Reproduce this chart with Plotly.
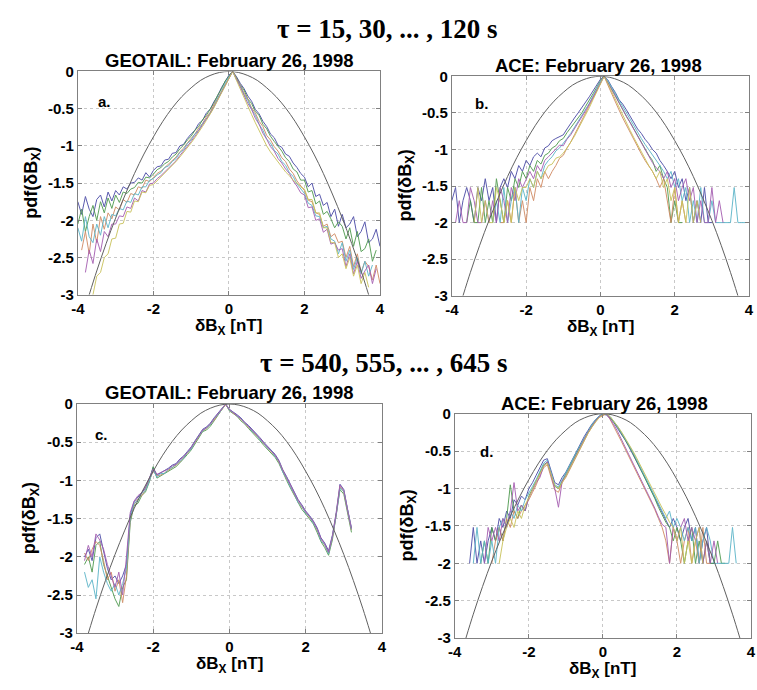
import plotly.graph_objects as go

N = None
# bin centres shared by all panels: -4.0, -3.9, ..., 4.0
X_GRID = [round(-4 + 0.1 * i, 1) for i in range(81)]

X_TICKS = [-4, -2, 0, 2, 4]
X_TICK_TEXT = ["-4", "-2", "0", "2", "4"]
Y_TICKS = [0, -0.5, -1, -1.5, -2, -2.5, -3]
Y_TICK_TEXT = ["0", "-0.5", "-1", "-1.5", "-2", "-2.5", "-3"]

# Gaussian reference curve (log10 pdf)
GAUSS_X = [-3.7, -3.5, -3.25, -3.0, -2.75, -2.5, -2.25, -2.0, -1.75, -1.5, -1.25, -1.0, -0.75, -0.5, -0.25, 0.0,
           0.25, 0.5, 0.75, 1.0, 1.25, 1.5, 1.75, 2.0, 2.25, 2.5, 2.75, 3.0, 3.25, 3.5, 3.7]
GAUSS_Y = [-3.0, -2.68, -2.31, -1.97, -1.66, -1.37, -1.11, -0.88, -0.67, -0.49, -0.34, -0.22, -0.12, -0.055, -0.014, 0.0,
           -0.014, -0.055, -0.12, -0.22, -0.34, -0.49, -0.67, -0.88, -1.11, -1.37, -1.66, -1.97, -2.31, -2.68, -3.0]

# ---------------- panel a: GEOTAIL, tau = 15..120 s ----------------
A1 = [-1.75,-1.92,-1.68,-1.85,-1.95,-1.72,-1.66,-1.82,-1.62,-1.74,
      -1.60,-1.66,-1.55,-1.58,-1.50,-1.49,-1.43,-1.46,-1.36,-1.42,
      -1.33,-1.28,-1.27,-1.19,-1.18,-1.10,-1.09,-1.00,-0.98,-0.90,
      -0.84,-0.79,-0.70,-0.66,-0.56,-0.51,-0.41,-0.33,-0.22,-0.13,
      -0.05,0.00,-0.07,-0.16,-0.23,-0.33,-0.40,-0.51,-0.57,-0.67,
      -0.74,-0.84,-0.89,-0.99,-1.02,-1.11,-1.14,-1.23,-1.29,-1.37,
      -1.42,-1.55,-1.50,-1.68,-1.65,-1.80,-1.76,-1.95,-1.85,-2.08,
      -1.92,-2.10,-2.05,-1.95,-2.22,-2.15,-2.02,-2.30,-2.25,-2.12,
      -2.35]
A2 = [-2.05,-1.85,-2.15,-1.95,-1.80,-2.00,-1.75,-1.90,-1.70,-1.84,
      -1.66,-1.76,-1.62,-1.64,-1.58,-1.56,-1.49,-1.50,-1.42,-1.43,
      -1.38,-1.32,-1.29,-1.24,-1.21,-1.15,-1.11,-1.04,-0.99,-0.92,
      -0.87,-0.79,-0.74,-0.65,-0.59,-0.51,-0.43,-0.32,-0.24,-0.13,
      -0.06,0.00,-0.08,-0.18,-0.25,-0.37,-0.43,-0.54,-0.59,-0.71,
      -0.77,-0.87,-0.94,-1.01,-1.07,-1.16,-1.21,-1.31,-1.35,-1.46,
      -1.46,-1.62,-1.60,-1.78,-1.74,-1.92,-1.88,-1.98,-2.10,-2.02,
      -2.08,-2.25,-2.10,-2.35,-2.15,-2.42,-2.38,-2.25,-2.55,-2.40,
      N]
A3 = [N,-2.40,-2.15,-2.45,-2.05,-2.30,-1.95,-2.12,-1.90,-1.98,
      -1.82,-1.86,-1.72,-1.76,-1.64,-1.66,-1.55,-1.57,-1.46,-1.48,
      -1.42,-1.37,-1.34,-1.29,-1.25,-1.19,-1.15,-1.08,-1.03,-0.96,
      -0.90,-0.84,-0.76,-0.70,-0.61,-0.55,-0.45,-0.36,-0.25,-0.16,
      -0.07,0.00,-0.10,-0.18,-0.29,-0.37,-0.49,-0.56,-0.67,-0.74,
      -0.86,-0.92,-1.01,-1.07,-1.16,-1.21,-1.31,-1.37,-1.47,-1.54,
      -1.60,-1.73,-1.75,-1.90,-1.92,-2.08,-2.05,-2.22,-2.18,-2.30,
      -2.28,-2.50,-2.35,-2.62,-2.45,-2.70,-2.55,-2.62,-2.80,-2.60,
      -2.85]
A4 = [-2.10,-2.28,-1.95,-2.22,-2.30,-2.05,-2.20,-1.95,-2.10,-1.92,
      -1.94,-1.84,-1.86,-1.74,-1.76,-1.64,-1.66,-1.55,-1.55,-1.46,
      -1.44,-1.39,-1.36,-1.29,-1.27,-1.21,-1.17,-1.09,-1.05,-0.97,
      -0.92,-0.84,-0.79,-0.70,-0.64,-0.55,-0.48,-0.36,-0.28,-0.16,
      -0.08,0.00,-0.11,-0.19,-0.31,-0.39,-0.51,-0.59,-0.71,-0.79,
      -0.91,-0.96,-1.06,-1.11,-1.21,-1.26,-1.36,-1.41,-1.51,-1.57,
      -1.64,-1.77,-1.80,-1.94,-1.95,-2.10,-2.08,-2.25,-2.28,-2.45,
      -2.30,-2.55,-2.40,-2.66,-2.50,-2.72,-2.55,-2.75,-2.60,N,
      N]
A5 = [N,N,-2.70,-2.40,-2.58,-2.25,-2.42,-2.15,-2.22,-2.05,
      -2.05,-1.94,-1.95,-1.82,-1.84,-1.70,-1.74,-1.60,-1.62,-1.51,
      -1.50,-1.44,-1.40,-1.35,-1.30,-1.25,-1.20,-1.13,-1.07,-1.00,
      -0.94,-0.87,-0.80,-0.72,-0.64,-0.57,-0.48,-0.38,-0.28,-0.18,
      -0.08,0.00,-0.10,-0.21,-0.30,-0.43,-0.51,-0.63,-0.71,-0.83,
      -0.91,-1.01,-1.07,-1.17,-1.23,-1.31,-1.37,-1.47,-1.54,-1.63,
      -1.66,-1.83,-1.82,-2.00,-1.98,-2.16,-2.12,-2.32,-2.30,-2.40,
      -2.38,-2.62,-2.45,-2.72,-2.55,-2.78,-2.68,-2.60,-2.85,-2.65,
      N]
A6 = [N,N,N,N,-3.00,-2.75,-2.70,-2.50,-2.45,-2.25,
      -2.24,-2.05,-2.04,-1.88,-1.89,-1.74,-1.75,-1.62,-1.63,-1.53,
      -1.52,-1.47,-1.42,-1.37,-1.32,-1.27,-1.21,-1.15,-1.09,-1.02,
      -0.96,-0.89,-0.82,-0.74,-0.66,-0.58,-0.49,-0.39,-0.29,-0.19,
      -0.09,0.00,-0.12,-0.24,-0.36,-0.47,-0.58,-0.69,-0.80,-0.90,
      -1.00,-1.08,-1.15,-1.22,-1.28,-1.35,-1.40,-1.46,-1.50,-1.55,
      -1.58,-1.72,-1.72,-1.90,-1.90,-2.10,-2.10,-2.30,-2.30,-2.50,
      -2.45,-2.65,-2.50,-2.75,-2.60,-2.85,-2.70,-2.90,N,N,
      N]

# ---------------- panel b: ACE, tau = 15..120 s ----------------
B1 = [-1.70,-1.52,-2.00,-1.70,-1.52,-1.70,-2.00,-1.52,-1.70,-1.40,
      -1.70,-1.52,-2.00,-1.52,-1.40,-1.52,-1.30,-1.40,-1.22,-1.30,
      -1.15,-1.22,-1.10,-1.05,-1.10,-0.98,-0.95,-0.88,-0.85,-0.82,
      -0.80,-0.72,-0.64,-0.57,-0.50,-0.43,-0.36,-0.28,-0.20,-0.12,
      -0.04,0.00,-0.05,-0.14,-0.22,-0.32,-0.38,-0.46,-0.55,-0.62,
      -0.72,-0.78,-0.86,-0.92,-1.00,-1.05,-1.15,-1.22,-1.30,-1.40,
      -1.30,-1.52,-1.40,-1.70,-1.52,-2.00,-1.70,-2.00,-1.52,-2.00,
      -2.00,N,N,N,N,N,N,N,N,N,
      N]
B2 = [N,N,N,N,-2.00,-1.70,-2.00,-2.00,-1.52,-2.00,
      -1.70,-2.00,-1.40,-1.70,-2.00,-1.52,-1.70,-1.40,-1.52,-1.30,
      -1.40,-1.22,-1.30,-1.15,-1.20,-1.08,-1.05,-0.98,-0.95,-0.88,
      -0.85,-0.77,-0.70,-0.64,-0.56,-0.50,-0.41,-0.33,-0.24,-0.15,
      -0.06,0.00,-0.08,-0.17,-0.26,-0.36,-0.45,-0.55,-0.63,-0.72,
      -0.82,-0.90,-1.00,-1.08,-1.15,-1.30,-1.22,-1.40,-1.52,-2.00,
      -1.70,-2.00,-2.00,N,N,N,N,N,N,N,
      N,N,N,N,N,N,N,N,N,N,
      N]
B3 = [N,N,N,N,N,N,N,N,N,N,
      N,N,N,-2.00,-2.00,-1.70,-2.00,-1.52,-2.00,-1.70,
      -2.00,-1.52,-1.70,-1.40,-1.52,-1.30,-1.40,-1.30,-1.22,-1.12,
      -1.08,-0.98,-0.90,-0.80,-0.70,-0.62,-0.52,-0.42,-0.31,-0.20,
      -0.09,0.00,-0.12,-0.24,-0.35,-0.46,-0.57,-0.67,-0.78,-0.88,
      -0.98,-1.06,-1.15,-1.22,-1.30,-1.40,-1.52,-1.40,-1.70,-2.00,
      -1.52,-2.00,-1.70,-2.00,N,N,N,N,N,N,
      N,N,N,N,N,N,N,N,N,N,
      N]
B4 = [N,N,N,N,N,N,N,N,N,N,
      N,-2.00,-1.70,-2.00,-1.52,-2.00,-1.70,-1.52,-2.00,-1.52,
      -1.70,-1.40,-1.52,-1.30,-1.40,-1.22,-1.15,-1.10,-1.02,-0.98,
      -0.92,-0.85,-0.78,-0.70,-0.62,-0.54,-0.46,-0.37,-0.27,-0.17,
      -0.07,0.00,-0.06,-0.15,-0.24,-0.33,-0.42,-0.50,-0.60,-0.68,
      -0.77,-0.85,-0.93,-1.00,-1.08,-1.15,-1.22,-1.30,-1.40,-1.30,
      -1.52,-1.40,-1.70,-1.52,-2.00,-1.70,-2.00,-1.52,-2.00,-2.00,
      -1.70,-2.00,-2.00,-2.00,-2.00,-2.00,-1.52,-2.00,-2.00,-2.00,
      N]
B5 = [N,-2.00,-1.70,-2.00,-2.00,-1.52,-1.70,-2.00,-2.00,-1.70,
      -2.00,-1.70,-2.00,-1.52,-1.70,-2.00,-1.52,-1.70,-1.40,-1.52,
      -1.40,-1.30,-1.40,-1.22,-1.30,-1.15,-1.10,-1.05,-1.00,-0.94,
      -0.95,-0.86,-0.80,-0.72,-0.64,-0.55,-0.47,-0.38,-0.28,-0.18,
      -0.08,0.00,-0.09,-0.18,-0.28,-0.38,-0.47,-0.56,-0.65,-0.74,
      -0.83,-0.92,-1.00,-1.10,-1.18,-1.25,-1.30,-1.40,-1.30,-1.52,
      -1.40,-1.70,-1.52,-1.40,-1.70,-1.52,-2.00,-1.70,-2.00,-2.00,
      -1.52,-2.00,-1.70,-2.00,N,N,N,N,N,N,
      N]
B6 = [N,N,N,N,N,N,-2.00,-1.52,-2.00,-1.70,
      -2.00,-2.00,-1.52,-1.70,-2.00,-1.70,-2.00,-1.52,-1.70,-1.52,
      -1.52,-1.40,-1.52,-1.30,-1.40,-1.30,-1.22,-1.20,-1.12,-1.10,
      -1.05,-0.98,-0.90,-0.82,-0.72,-0.63,-0.53,-0.43,-0.32,-0.21,
      -0.10,0.00,-0.10,-0.21,-0.32,-0.43,-0.53,-0.64,-0.74,-0.84,
      -0.94,-1.04,-1.12,-1.22,-1.30,-1.40,-1.30,-1.52,-1.40,-1.70,
      -1.52,-2.00,-1.70,-2.00,-1.52,-2.00,-1.70,-2.00,N,N,
      N,N,N,N,N,N,N,N,N,N,
      N]

# ---------------- panel c: GEOTAIL, tau = 540..645 s ----------------
C1 = [N,N,-2.00,-1.90,-2.05,-1.75,-1.70,-1.95,-2.15,-2.30,
      -2.25,-2.35,-2.25,-2.10,-1.45,-1.28,-1.22,-1.15,-1.10,-0.98,
      -0.83,-0.93,-0.90,-0.88,-0.84,-0.80,-0.78,-0.72,-0.68,-0.62,
      -0.56,-0.48,-0.40,-0.33,-0.30,-0.25,-0.18,-0.12,-0.06,0.00,
      -0.07,-0.10,-0.14,-0.18,-0.24,-0.28,-0.33,-0.38,-0.44,-0.50,
      -0.55,-0.60,-0.66,-0.74,-0.86,-0.95,-1.05,-1.15,-1.25,-1.32,
      -1.40,-1.46,-1.53,-1.62,-1.75,-1.82,-1.92,-1.72,-1.42,-1.05,
      -1.12,-1.38,-1.62,N,N,N,N,N,N,N,
      N]
C2 = [N,N,-2.10,-2.00,-2.20,-1.85,-1.80,-2.10,-2.25,-2.40,
      -2.55,-2.65,-2.40,-2.30,-1.55,-1.33,-1.30,-1.20,-1.15,-1.02,
      -0.82,-0.97,-0.94,-0.92,-0.88,-0.85,-0.82,-0.77,-0.72,-0.66,
      -0.60,-0.52,-0.44,-0.36,-0.34,-0.29,-0.22,-0.15,-0.08,0.00,
      -0.09,-0.13,-0.16,-0.22,-0.26,-0.32,-0.37,-0.42,-0.48,-0.54,
      -0.59,-0.64,-0.70,-0.78,-0.90,-1.00,-1.10,-1.20,-1.30,-1.38,
      -1.44,-1.50,-1.57,-1.68,-1.80,-1.88,-1.98,-1.78,-1.48,-1.12,
      -1.18,-1.42,-1.68,N,N,N,N,N,N,N,
      N]
C3 = [N,N,-1.95,-2.05,-1.90,-1.80,-1.85,-2.05,-2.30,-2.20,
      -2.45,-2.30,-2.60,-2.25,-1.50,-1.32,-1.24,-1.20,-1.12,-1.00,
      -0.88,-0.94,-0.93,-0.90,-0.87,-0.84,-0.80,-0.76,-0.70,-0.65,
      -0.58,-0.50,-0.43,-0.35,-0.32,-0.27,-0.21,-0.14,-0.07,-0.01,
      -0.08,-0.12,-0.15,-0.20,-0.25,-0.30,-0.35,-0.40,-0.46,-0.52,
      -0.57,-0.62,-0.68,-0.76,-0.88,-0.98,-1.08,-1.18,-1.28,-1.35,
      -1.42,-1.48,-1.55,-1.65,-1.78,-1.85,-1.95,-1.75,-1.45,-1.08,
      -1.15,-1.40,-1.65,N,N,N,N,N,N,N,
      N]
C4 = [N,N,-2.20,-2.40,-2.30,-2.55,-2.00,-2.20,-2.35,-2.45,
      -2.35,-2.50,-2.35,-2.15,-1.48,-1.30,-1.26,-1.17,-1.13,-1.01,
      -0.86,-0.96,-0.91,-0.91,-0.85,-0.83,-0.79,-0.75,-0.71,-0.63,
      -0.59,-0.49,-0.42,-0.35,-0.31,-0.27,-0.19,-0.14,-0.07,0.00,
      -0.08,-0.11,-0.16,-0.19,-0.25,-0.29,-0.36,-0.39,-0.47,-0.51,
      -0.58,-0.61,-0.69,-0.75,-0.89,-0.97,-1.09,-1.17,-1.29,-1.34,
      -1.43,-1.47,-1.56,-1.64,-1.79,-1.84,-1.96,-1.74,-1.46,-1.10,
      -1.14,-1.41,-1.64,N,N,N,N,N,N,N,
      N]
C5 = [N,N,-2.05,-1.85,-2.00,-1.70,-1.78,-1.90,-2.10,-2.25,
      -2.40,-2.20,-2.50,-2.00,-1.42,-1.27,-1.20,-1.16,-1.08,-0.97,
      -0.85,-0.92,-0.90,-0.87,-0.85,-0.81,-0.79,-0.73,-0.69,-0.63,
      -0.57,-0.49,-0.41,-0.34,-0.31,-0.26,-0.19,-0.13,-0.06,0.00,
      -0.07,-0.11,-0.14,-0.19,-0.24,-0.29,-0.34,-0.39,-0.45,-0.51,
      -0.56,-0.61,-0.67,-0.75,-0.87,-0.96,-1.06,-1.16,-1.26,-1.33,
      -1.41,-1.47,-1.54,-1.63,-1.76,-1.83,-1.94,-1.73,-1.44,-1.06,
      -1.13,-1.39,-1.63,N,N,N,N,N,N,N,
      N]

# ---------------- panel d: ACE, tau = 540..645 s ----------------
D1 = [N,N,N,N,-2.00,-1.52,-2.00,-1.70,-2.00,-1.70,
      -1.52,-1.70,-1.40,-1.52,-1.30,-1.40,-1.15,-1.22,-1.10,-1.15,
      -1.00,-0.92,-0.82,-0.72,-0.62,-0.60,-0.75,-0.92,-0.95,-0.85,
      -0.78,-0.68,-0.58,-0.48,-0.38,-0.30,-0.22,-0.14,-0.08,-0.03,
      0.00,-0.02,-0.06,-0.12,-0.20,-0.27,-0.35,-0.44,-0.53,-0.62,
      -0.72,-0.82,-0.92,-1.02,-1.12,-1.22,-1.30,-1.40,-1.52,-1.40,
      -1.52,-1.70,-1.52,-1.40,-1.70,-1.52,-2.00,-1.70,-1.52,-2.00,
      -2.00,N,N,N,N,N,N,N,N,N,
      N]
D2 = [N,N,N,N,N,N,N,-2.00,-1.70,-2.00,
      -1.52,-1.70,-1.52,-1.70,-1.40,-0.95,-1.30,-1.40,-1.22,-1.30,
      -1.10,-1.00,-0.90,-0.80,-0.68,-0.65,-0.80,-0.97,-1.00,-0.90,
      -0.82,-0.72,-0.62,-0.52,-0.42,-0.33,-0.24,-0.16,-0.09,-0.04,
      -0.01,0.00,-0.05,-0.11,-0.18,-0.26,-0.34,-0.43,-0.52,-0.62,
      -0.72,-0.82,-0.93,-1.03,-1.13,-1.25,-1.35,-1.45,-1.52,-1.70,
      -1.52,-1.70,-2.00,-1.70,-1.52,-2.00,-1.70,-2.00,-1.70,-2.00,
      -2.00,-1.70,-2.00,-2.00,N,N,N,N,N,N,
      N]
D3 = [N,N,N,N,N,N,N,N,N,N,
      -2.00,-1.70,-1.52,-1.70,-1.40,-1.52,-1.30,-1.40,-1.30,-1.22,
      -1.15,-1.05,-0.95,-0.82,-0.72,-0.68,-0.85,-1.02,-1.05,-0.92,
      -0.85,-0.75,-0.64,-0.54,-0.44,-0.35,-0.26,-0.18,-0.10,-0.05,
      -0.02,0.00,-0.08,-0.17,-0.27,-0.37,-0.47,-0.57,-0.67,-0.77,
      -0.87,-0.97,-1.07,-1.18,-1.28,-1.40,-1.52,-1.70,-2.00,-1.52,
      -1.70,-2.00,-1.70,-1.52,-2.00,-1.70,-2.00,-1.52,-2.00,-2.00,
      N,N,N,N,N,N,N,N,N,N,
      N]
D4 = [N,N,N,N,N,-2.00,-1.52,-2.00,-1.70,-2.00,
      -1.70,-2.00,-1.52,-1.40,-1.52,-1.30,-1.40,-1.22,-1.30,-1.15,
      -1.05,-0.97,-0.88,-0.78,-0.66,-0.62,-0.78,-0.95,-0.98,-0.88,
      -0.80,-0.70,-0.60,-0.50,-0.41,-0.32,-0.23,-0.15,-0.08,-0.03,
      0.00,-0.01,-0.04,-0.10,-0.17,-0.25,-0.33,-0.41,-0.50,-0.60,
      -0.70,-0.80,-0.90,-1.00,-1.10,-1.20,-1.30,-1.40,-1.30,-1.52,
      -1.40,-1.52,-1.70,-1.52,-1.70,-1.52,-2.00,-1.70,-1.52,-1.70,
      -2.00,-2.00,-2.00,-2.00,-2.00,-1.52,-2.00,N,N,N,
      N]
D5 = [N,N,N,N,N,N,N,N,-2.00,-1.52,
      -1.70,-1.52,-1.70,-1.40,-1.52,-1.30,-0.92,-1.30,-1.22,-1.30,
      -1.12,-1.02,-0.92,-0.85,-0.70,-0.64,-0.82,-1.00,-1.25,-0.90,
      -0.83,-0.73,-0.63,-0.52,-0.43,-0.34,-0.25,-0.17,-0.10,-0.04,
      -0.01,0.00,-0.07,-0.15,-0.24,-0.34,-0.44,-0.54,-0.64,-0.75,
      -0.86,-0.96,-1.06,-1.16,-1.26,-1.38,-1.48,-1.52,-2.00,-1.52,
      -1.70,-1.52,-1.40,-1.70,-1.52,-1.70,-1.52,-2.00,-1.70,-2.00,
      -1.70,-2.00,N,N,N,N,N,N,N,N,
      N]
D6 = [N,N,N,N,N,N,N,N,N,N,
      N,N,-2.00,-1.70,-1.52,-1.40,-1.52,-1.30,-1.40,-1.22,
      -1.12,-1.00,-0.90,-0.80,-0.70,-0.66,-0.80,-0.96,-1.00,-0.92,
      -0.84,-0.74,-0.64,-0.54,-0.44,-0.35,-0.26,-0.18,-0.11,-0.05,
      -0.01,0.00,-0.04,-0.10,-0.17,-0.24,-0.32,-0.40,-0.49,-0.58,
      -0.68,-0.77,-0.86,-0.96,-1.06,-1.16,-1.26,-1.35,-1.45,-1.52,
      -1.70,-1.52,-2.00,-1.70,-2.00,-1.70,-1.52,-2.00,N,N,
      N,N,N,N,N,N,N,N,N,N,
      N]

PANEL_TITLES = ["GEOTAIL: February 26, 1998", "ACE: February 26, 1998",
                "GEOTAIL: February 26, 1998", "ACE: February 26, 1998"]
PANEL_LABELS = ["a.", "b.", "c.", "d."]
ROW_TITLES = ["τ = 15, 30, ... , 120 s", "τ = 540, 555, ... , 645 s"]

SERIES_COLORS = ["#4b4ba6", "#4f9a4f", "#d08a62", "#5ab4c8", "#a45cb0", "#c9c25a"]
GAUSS_COLOR = "#606060"

panels = [
    [A1, A2, A3, A4, A5, A6],
    [B1, B2, B3, B4, B5, B6],
    [C1, C2, C3, C4, C5],
    [D1, D2, D3, D4, D5, D6],
]
# plot-area boxes in pixels: (left, right, top, bottom)
W, H = 757, 690
boxes_px = [(72, 379, 64, 293), (452, 754, 69, 294), (71, 381, 405, 640), (455, 756, 415, 645)]
domains = [((l / W, r / W), (1 - b / H, 1 - t / H)) for l, r, t, b in boxes_px]
label_pos = [(-3.3, -0.4), (-3.2, -0.37), (-3.35, -0.4), (-3.15, -0.5)]
title_y_px = [53, 58, 393, 404]
title_x_px = [226, 601, 226, 607]

fig = go.Figure()
for k, series in enumerate(panels):
    ax = "" if k == 0 else str(k + 1)
    for j, ys in enumerate(series):
        fig.add_trace(go.Scatter(x=X_GRID, y=ys, mode="lines", xaxis="x" + ax, yaxis="y" + ax,
                                 line=dict(color=SERIES_COLORS[j % len(SERIES_COLORS)], width=1),
                                 opacity=0.9, showlegend=False, connectgaps=False, hoverinfo="skip"))
    fig.add_trace(go.Scatter(x=GAUSS_X, y=GAUSS_Y, mode="lines", xaxis="x" + ax, yaxis="y" + ax,
                             line=dict(color=GAUSS_COLOR, width=1, shape="spline"),
                             showlegend=False, hoverinfo="skip"))

axis_common = dict(showline=True, mirror="ticks", linecolor="#808080", linewidth=1,
                   ticks="inside", ticklen=4, tickcolor="#808080",
                   showgrid=True, gridcolor="#c8c8c8", griddash="dot", gridwidth=1,
                   zeroline=False, tickfont=dict(family="Liberation Sans", size=15, color="black", weight="bold"))
layout = {}
annotations = []
for k in range(4):
    ax = "" if k == 0 else str(k + 1)
    (dx, dy) = domains[k]
    layout["xaxis" + ax] = dict(axis_common, domain=list(dx), range=[-4, 4], tickvals=X_TICKS,
                                ticktext=X_TICK_TEXT, anchor="y" + ax)
    layout["yaxis" + ax] = dict(axis_common, domain=list(dy), range=[-3, 0], tickvals=Y_TICKS,
                                ticktext=Y_TICK_TEXT, anchor="x" + ax)
    l, r, t, b = boxes_px[k]
    cx = (l + r) / 2 / W
    cy = 1 - (t + b) / 2 / H
    annotations.append(dict(text=PANEL_TITLES[k], x=title_x_px[k] / W, y=1 - title_y_px[k] / H,
                            xref="paper", yref="paper", showarrow=False, xanchor="center", yanchor="middle",
                            font=dict(family="Liberation Sans", size=18.5, color="black", weight="bold")))
    annotations.append(dict(text="pdf(δB<sub>X</sub>)", x=(l - 47) / W, y=cy, xref="paper", yref="paper",
                            showarrow=False, textangle=-90, xanchor="center", yanchor="middle",
                            font=dict(family="Liberation Sans", size=18, color="black", weight="bold")))
    annotations.append(dict(text="δB<sub>X</sub> [nT]", x=cx, y=1 - (b + 33) / H, xref="paper", yref="paper",
                            showarrow=False, xanchor="center", yanchor="middle",
                            font=dict(family="Liberation Sans", size=17, color="black", weight="bold")))
    annotations.append(dict(text=PANEL_LABELS[k], x=label_pos[k][0], y=label_pos[k][1],
                            xref="x" + ax, yref="y" + ax, showarrow=False, xanchor="center", yanchor="middle",
                            font=dict(family="Liberation Sans", size=15, color="black", weight="bold")))

annotations.append(dict(text=ROW_TITLES[0], x=387 / W, y=1 - 20 / H, xref="paper", yref="paper", showarrow=False,
                        xanchor="center", yanchor="middle",
                        font=dict(family="Liberation Serif", size=27, color="black", weight="bold")))
annotations.append(dict(text=ROW_TITLES[1], x=383 / W, y=1 - 363 / H, xref="paper", yref="paper", showarrow=False,
                        xanchor="center", yanchor="middle",
                        font=dict(family="Liberation Serif", size=27, color="black", weight="bold")))

fig.update_layout(width=W, height=H, margin=dict(l=0, r=0, t=0, b=0),
                  paper_bgcolor="white", plot_bgcolor="white", annotations=annotations, **layout)
fig.write_html("out.html")
